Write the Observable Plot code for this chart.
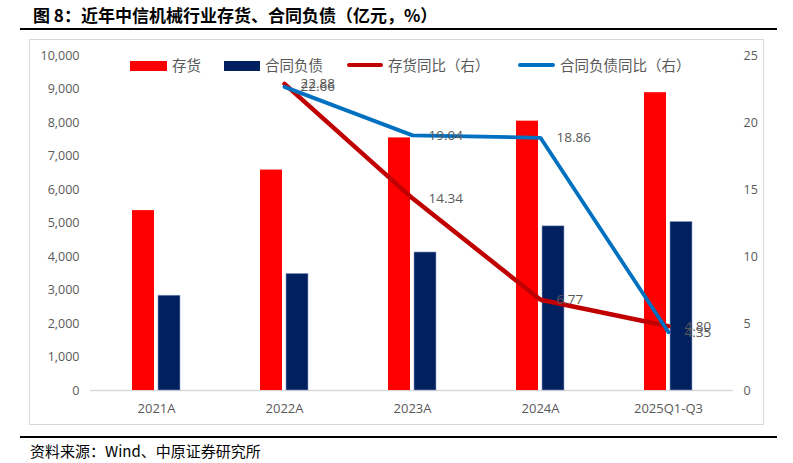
<!DOCTYPE html>
<html>
<head>
<meta charset="utf-8">
<script src="https://cdn.jsdelivr.net/npm/d3@7"></script>
<script src="https://cdn.jsdelivr.net/npm/@observablehq/plot@0.6"></script>
<style>
  html, body { margin: 0; padding: 0; background: #fff; }
  body { width: 793px; height: 463px; position: relative; overflow: hidden; font-family: "Noto Sans CJK SC", "Noto Sans", sans-serif; }
  .abs { position: absolute; }
  #title { left: 33px; top: 3px; font-size: 17px; font-weight: bold; color: #000; white-space: nowrap; line-height: 24px; }
  .rule { left: 20px; width: 757px; height: 2.5px; background: #000; }
  #box { left: 29px; top: 39px; width: 735px; height: 386px; box-sizing: border-box; border: 1px solid #d9d9d9; }
  #chart { left: 29px; top: 39px; }
  #source { left: 30px; top: 440px; font-size: 15px; color: #000; white-space: nowrap; line-height: 22px; }
  .lg { font-size: 14.5px; color: #595959; white-space: nowrap; line-height: 20px; top: 55px; }
  .key { top: 60.5px; height: 10px; }
  .lkey { top: 63px; height: 4px; border-radius: 2px; }
</style>
</head>
<body>
<div id="title" class="abs">图 8：近年中信机械行业存货、合同负债（亿元，%）</div>
<div class="abs rule" style="top:27.5px"></div>
<div id="box" class="abs"></div>
<div id="chart" class="abs"></div>
<div class="abs key" style="left:130px;width:37px;background:#FF0000"></div>
<div class="abs lg" style="left:172px">存货</div>
<div class="abs key" style="left:224px;width:36px;background:#002060"></div>
<div class="abs lg" style="left:265px">合同负债</div>
<div class="abs lkey" style="left:347px;width:36px;background:#C00000"></div>
<div class="abs lg" style="left:388px">存货同比（右）</div>
<div class="abs lkey" style="left:518px;width:37px;background:#0070C0"></div>
<div class="abs lg" style="left:560px">合同负债同比（右）</div>
<div class="abs rule" style="top:435.5px"></div>
<div id="source" class="abs">资料来源：Wind、中原证券研究所</div>
<script>
const categories = ["2021A", "2022A", "2023A", "2024A", "2025Q1-Q3"];
const inventory = [5370, 6580, 7540, 8040, 8890];          // 存货 (亿元)
const contractLiab = [2830, 3480, 4120, 4900, 5030];       // 合同负债 (亿元)
const inventoryYoY = [null, 22.88, 14.34, 6.77, 4.80];     // 存货同比 (%)
const contractYoY = [null, 22.66, 19.04, 18.86, 4.35];     // 合同负债同比 (%)
const leftTicks = [0, 1000, 2000, 3000, 4000, 5000, 6000, 7000, 8000, 9000, 10000];
const rightTicks = [0, 5, 10, 15, 20, 25];

const leftMax = 10000, rightMax = 25;
const k = leftMax / rightMax; // map right axis onto left scale

const rows = categories.map((c, i) => ({
  cat: c, inv: inventory[i], cl: contractLiab[i], invYoY: inventoryYoY[i], clYoY: contractYoY[i]
}));
const invLine = rows.filter(d => d.invYoY != null);
const clLine = rows.filter(d => d.clYoY != null);

const axisFont = {fontFamily: "'Open Sans', sans-serif", fontSize: 12.5, fill: "#595959"};

const chart = Plot.plot({
  width: 735,
  height: 386,
  marginTop: 16,
  marginBottom: 35,
  marginLeft: 61,
  marginRight: 31,
  style: {fontFamily: "'Open Sans', sans-serif", fontSize: "12.5px", color: "#595959", background: "transparent"},
  x: {type: "band", domain: categories, padding: 0, axis: null},
  y: {domain: [0, leftMax], axis: null},
  marks: [
    Plot.ruleY([0], {stroke: "#d9d9d9", strokeWidth: 1.5}),
    Plot.barY(rows, {x: "cat", y: "inv", fill: "#FF0000", insetLeft: 40, insetRight: 66}),
    Plot.barY(rows, {x: "cat", y: "cl", fill: "#002060", stroke: "#8ea0c8", strokeWidth: 0.6, insetLeft: 66, insetRight: 40}),
    Plot.line(invLine, {x: "cat", y: d => d.invYoY * k, stroke: "#C00000", strokeWidth: 4.5}),
    Plot.line(clLine, {x: "cat", y: d => d.clYoY * k, stroke: "#0070C0", strokeWidth: 3.8}),
    Plot.text(invLine, {x: "cat", y: d => d.invYoY * k, text: d => d.invYoY.toFixed(2), dx: 16, textAnchor: "start", fill: "#595959", fontSize: 13.5}),
    Plot.text(clLine, {x: "cat", y: d => d.clYoY * k, text: d => d.clYoY.toFixed(2), dx: 16, textAnchor: "start", fill: "#595959", fontSize: 13.5}),
    Plot.axisY({anchor: "left", ticks: leftTicks, tickFormat: d3.format(","), tickSize: 0, tickPadding: 11, label: null, ...axisFont}),
    Plot.axisY({anchor: "right", ticks: rightTicks.map(v => v * k), tickFormat: d => String(d / k), tickSize: 0, tickPadding: 10, label: null, ...axisFont}),
    Plot.axisX({tickSize: 0, tickPadding: 13, label: null, ...axisFont, fontSize: 13})
  ]
});
document.getElementById("chart").appendChild(chart);
</script>
</body>
</html>
